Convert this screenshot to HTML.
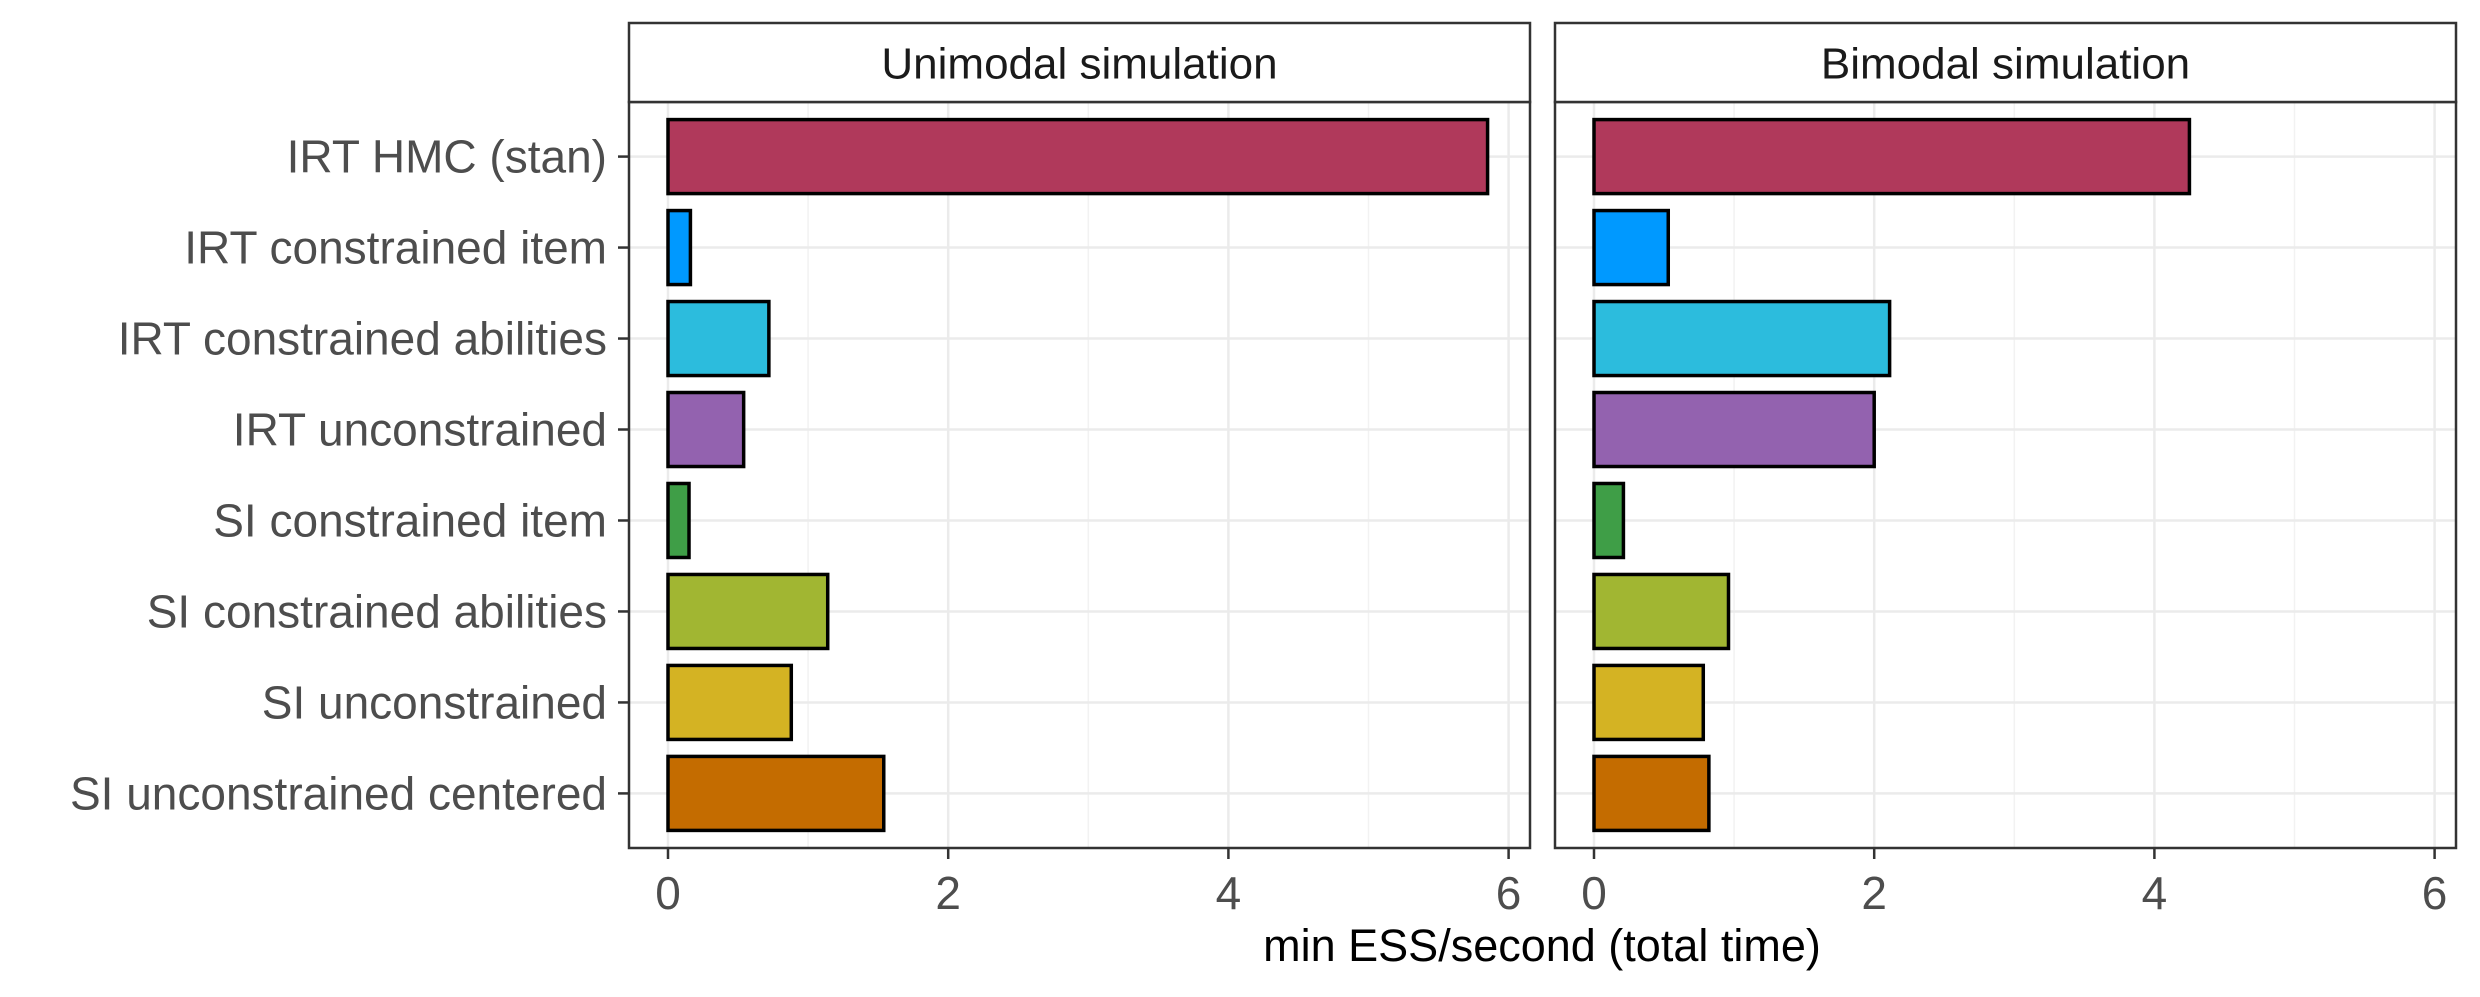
<!DOCTYPE html>
<html><head><meta charset="utf-8"><style>
html,body{margin:0;padding:0;background:#fff}
svg text{font-family:"Liberation Sans",sans-serif}
</style></head><body>
<svg id="chart" width="2480" height="992" xmlns="http://www.w3.org/2000/svg"></svg>
<script>
const categories = ["IRT HMC (stan)","IRT constrained item","IRT constrained abilities","IRT unconstrained","SI constrained item","SI constrained abilities","SI unconstrained","SI unconstrained centered"];
const panels = ["Unimodal simulation","Bimodal simulation"];
const unimodalValues = [5.85,0.16,0.72,0.54,0.15,1.14,0.88,1.54];
const bimodalValues = [4.25,0.53,2.11,2.0,0.21,0.96,0.78,0.82];
const colors = ["#B0395B","#0099FF","#2CBCDD","#9362AF","#3F9E47","#A1B632","#D4B323","#C46C00"];
const xTicks = [0,2,4,6];
const xMinor = [1,3,5];

const svg = document.getElementById('chart');
const NS = "http://www.w3.org/2000/svg";
function mk(tag, attrs, parent){const e=document.createElementNS(NS,tag);for(const k in attrs)e.setAttribute(k,attrs[k]);(parent||svg).appendChild(e);return e;}

const panelLefts=[629,1555], panelW=901, pTop=102, pBot=848, stripTop=23;
const x0Off=39, pxPerUnit=140.1;
const rowStep=(pBot-pTop)/8.2;
function yPos(i){return pTop+(0.6+i)*rowStep;}
const barH=74;
const seriesAll=[unimodalValues,bimodalValues];

panels.forEach((title,p)=>{
  const L=panelLefts[p];
  const xs=v=>L+x0Off+v*pxPerUnit;
  const g=mk('g',{});
  
  
  mk('rect',{x:L,y:pTop,width:panelW,height:pBot-pTop,fill:'#fff'},g);
  xMinor.forEach(v=>{const l=mk('line',{x1:xs(v),x2:xs(v),y1:pTop,y2:pBot,stroke:'#f2f2f2','stroke-width':1.5},g);
    });
  xTicks.forEach(v=>{const l=mk('line',{x1:xs(v),x2:xs(v),y1:pTop,y2:pBot,stroke:'#ebebeb','stroke-width':2.5},g);
    });
  categories.forEach((c,i)=>{const l=mk('line',{x1:L,x2:L+panelW,y1:yPos(i),y2:yPos(i),stroke:'#ebebeb','stroke-width':2.5},g);
    });
  seriesAll[p].forEach((v,i)=>{
    const r=mk('rect',{x:xs(0),y:yPos(i)-barH/2,width:Math.max(0,xs(v)-xs(0)),height:barH,fill:colors[i],stroke:'#000','stroke-width':3.5},g);
    
    
  });
  const b=mk('rect',{x:L,y:pTop,width:panelW,height:pBot-pTop,fill:'none',stroke:'#333','stroke-width':2.5},g);
  
  const s=mk('rect',{x:L,y:stripTop,width:panelW,height:pTop-stripTop,fill:'#fff',stroke:'#333','stroke-width':2.5},g);
  
  const st=mk('text',{x:L+panelW/2,y:(stripTop+pTop)/2+16,'text-anchor':'middle','font-size':44,fill:'#1a1a1a'},g);
  st.textContent=title;
  
  xTicks.forEach(v=>{
    const t=mk('line',{x1:xs(v),x2:xs(v),y1:pBot,y2:pBot+11,stroke:'#333','stroke-width':2.5},g);
    
    const tl=mk('text',{x:xs(v),y:909,'text-anchor':'middle','font-size':46,fill:'#4d4d4d'},g);
    tl.textContent=String(v);
    
  });
});
categories.forEach((c,i)=>{
  const t=mk('line',{x1:618,x2:629,y1:yPos(i),y2:yPos(i),stroke:'#333','stroke-width':2.5});
  
  const tl=mk('text',{x:607,y:yPos(i)+16,'text-anchor':'end','font-size':46,fill:'#4d4d4d'});
  tl.textContent=c;
  
});
const xt=mk('text',{x:1542,y:961,'text-anchor':'middle','font-size':45,fill:'#000'});
xt.textContent='min ESS/second (total time)';

</script>
</body></html>
